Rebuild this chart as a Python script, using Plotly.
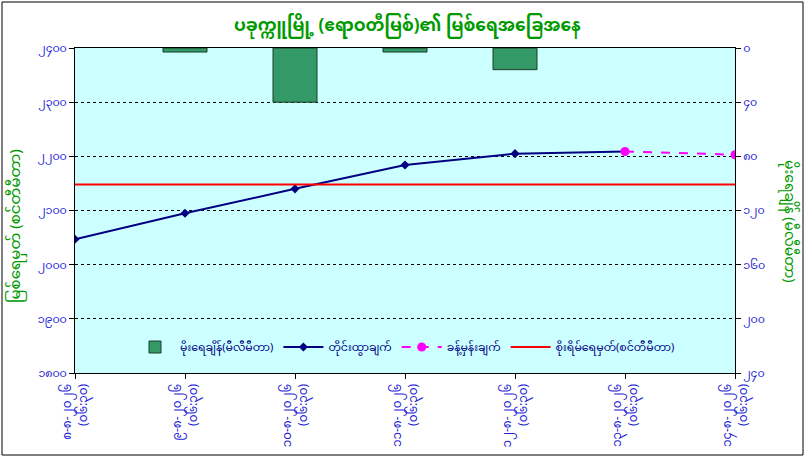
import plotly.graph_objects as go

MM = "၀၁၂၃၄၅၆၇၈၉"
def mm(n):
    return "".join(MM[int(c)] if c.isdigit() else c for c in str(n))

# ---- data ----
dates = ["၈-၈-၂၀၂၆<br>(၀၆:၃၀)", "၉-၈-၂၀၂၆<br>(၀၆:၃၀)", "၁၀-၈-၂၀၂၆<br>(၀၆:၃၀)",
         "၁၁-၈-၂၀၂၆<br>(၀၆:၃၀)", "၁၂-၈-၂၀၂၆<br>(၀၆:၃၀)", "၁၃-၈-၂၀၂၆<br>(၀၆:၃၀)",
         "၁၄-၈-၂၀၂၆<br>(၀၆:၃၀)"]
rainfall = [None, 3, 40, 3, 16, None, None]          # mm (right axis, reversed)
observed = [2047, 2095, 2140, 2184, 2205, 2209, None]  # cm
forecast = [None, None, None, None, None, 2209, 2203]  # cm
danger = [2148] * 7                                  # cm
left_ticks = [1800, 1900, 2000, 2100, 2200, 2300, 2400]
right_ticks = [0, 40, 80, 120, 160, 200, 240]

FONT = "Noto Sans Myanmar, Padauk, Myanmar Text, Noto Sans, sans-serif"
BLUE = "#1c1cd6"
GREEN = "#009a00"

fig = go.Figure()
fig.add_trace(go.Bar(x=dates, y=rainfall, yaxis="y2", name="မိုးရေချိန်(မီလီမီတာ)",
                     marker=dict(color="#339966", line=dict(color="#1d3d2a", width=1)),
                     width=0.4))
fig.add_trace(go.Scatter(x=dates, y=observed, name="တိုင်းထွာချက်", mode="lines+markers",
                         line=dict(color="#000080", width=2),
                         marker=dict(symbol="diamond", size=7, color="#000080")))
fig.add_trace(go.Scatter(x=dates, y=forecast, name="ခန့်မှန်းချက်", mode="lines+markers",
                         line=dict(color="#ff00ff", width=2, dash="dash"),
                         marker=dict(symbol="circle", size=9, color="#ff00ff")))
fig.add_trace(go.Scatter(x=dates, y=danger, name="စိုးရိမ်ရေမှတ်(စင်တီမီတာ)", mode="lines",
                         line=dict(color="#ff0000", width=2)))

fig.update_layout(
    width=808, height=460,
    margin=dict(l=75, r=73, t=48, b=87),
    paper_bgcolor="white", plot_bgcolor="#ccffff",
    font=dict(family=FONT, color=BLUE, size=11),
    showlegend=True,
    legend=dict(orientation="h", x=0.5, xanchor="center", y=0.08, yanchor="middle",
                bgcolor="rgba(0,0,0,0)", font=dict(size=11, color="#000080"),
                itemwidth=40, traceorder="normal"),
    bargap=0.6,
    xaxis=dict(type="category", range=[0, 6], tickangle=-90,
               showline=True, linecolor="black", mirror=True, linewidth=1,
               ticks="outside", ticklen=5, tickcolor="black", showgrid=False,
               tickfont=dict(size=12, color=BLUE)),
    yaxis=dict(range=[1800, 2400], tickvals=left_ticks, ticktext=[mm(v) for v in left_ticks],
               showline=True, linecolor="black", linewidth=1, mirror=False,
               ticks="outside", ticklen=5, tickcolor="black",
               showgrid=True, gridcolor="black", griddash="dot", gridwidth=1,
               zeroline=False, tickfont=dict(size=11, color=BLUE)),
    yaxis2=dict(overlaying="y", side="right", range=[240, 0], tickvals=right_ticks,
                ticktext=[mm(v) for v in right_ticks],
                showline=True, linecolor="black", linewidth=1,
                ticks="outside", ticklen=5, tickcolor="black", showgrid=False,
                zeroline=False, tickfont=dict(size=11, color=BLUE)),
    annotations=[
        dict(text="<b>ပခုက္ကူမြို့ (ဧရာဝတီမြစ်)၏ မြစ်ရေအခြေအနေ</b>", xref="paper", yref="paper",
             x=(407 - 75) / 660, y=(373 - 27) / 325, xanchor="center", yanchor="middle",
             showarrow=False, font=dict(size=17, color=GREEN)),
        dict(text="မြစ်ရေမှတ် (စင်တီမီတာ)", xref="paper", yref="paper",
             x=(16 - 75) / 660, y=(373 - 226) / 325, xanchor="center", yanchor="middle",
             textangle=-90, showarrow=False, font=dict(size=15, color=GREEN)),
        dict(text="မိုးရေချိန် (မီလီမီတာ)", xref="paper", yref="paper",
             x=(789 - 75) / 660, y=(373 - 221) / 325, xanchor="center", yanchor="middle",
             textangle=90, showarrow=False, font=dict(size=14, color=GREEN)),
    ],
    shapes=[dict(type="rect", xref="paper", yref="paper",
                 x0=(2 - 75) / 660, x1=(803 - 75) / 660,
                 y0=(373 - 455) / 325, y1=(373 - 2) / 325,
                 line=dict(color="black", width=1), fillcolor="rgba(0,0,0,0)", layer="below")],
)

fig.write_html("out.html", config={"displayModeBar": False},
               post_script="document.body.style.margin='0';document.body.style.padding='0';")
